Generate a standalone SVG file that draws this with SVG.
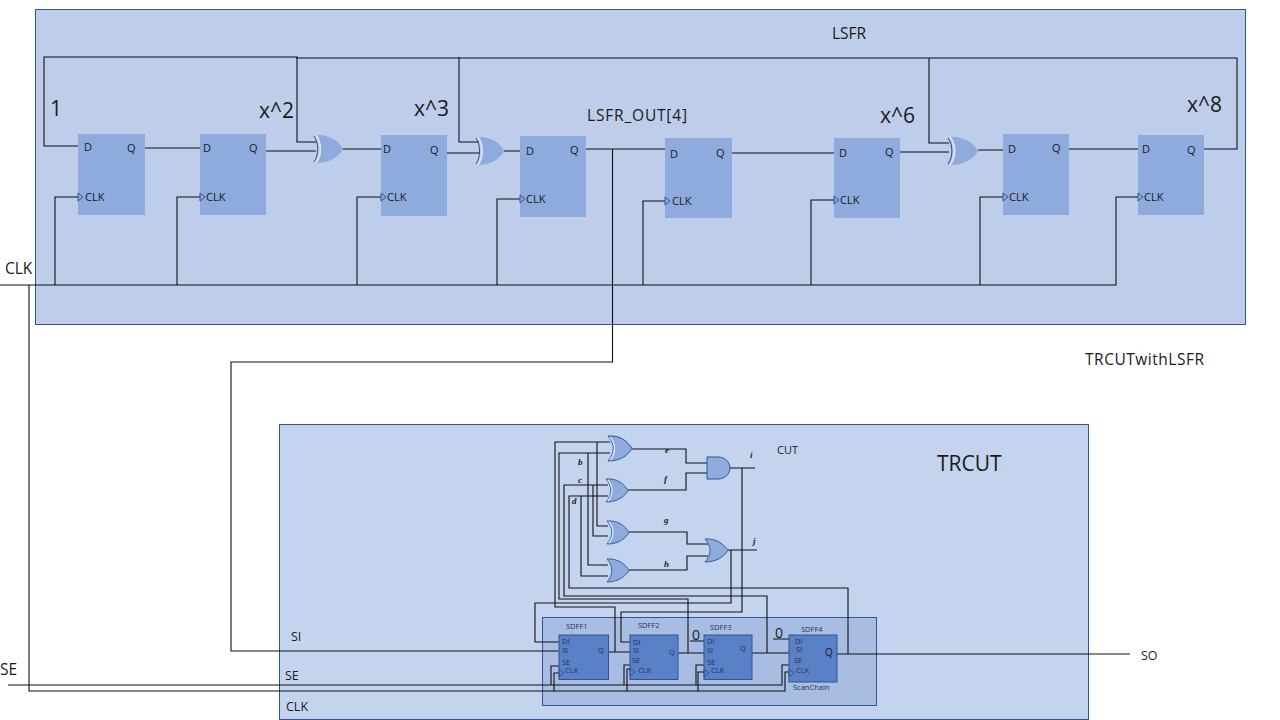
<svg xmlns="http://www.w3.org/2000/svg" width="1280" height="720" viewBox="0 0 1280 720">
<style>
text{font-family:"Open Sans","Noto Sans","Liberation Sans",sans-serif;fill:#1a1a1a}
.panel{stroke:#2f5597;stroke-width:1}
.ff{fill:#8faadc}
.sff{fill:#5a80c8;stroke:#2f5597;stroke-width:1}
.w{fill:none;stroke:#111;stroke-width:1.1}
.clk{fill:none;stroke:#2f5597;stroke-width:1}
.p{font-size:11px}
.s{font-size:7.500px;fill:#26334d}
.g{font-size:21px}
.m{font-size:15.500px}
.n{font-size:12.500px}
.z{font-size:14px}
.l{font-family:"Liberation Serif",serif;font-style:italic;font-size:9px;font-weight:bold}
.body{fill:#8faadc}
.gap{fill:none;stroke:#dbe5f5;stroke-width:1.5}
.back{fill:none;stroke:#2f4a78;stroke-width:1}
.cg{fill:#8faadc;stroke:#2f5597;stroke-width:1}
</style>
<defs>
<g id="xor">
<path class="body" d="M3,0C16,-1 26,6 30,14C26,22 16,28 3,28C9,20 9,8 3,0Z"/>
<path class="gap" d="M3,0C9,8 9,20 3,28"/>
<path class="back" d="M1,1C6,8 6,20 1,27"/>
</g>
<g id="cor">
<path class="cg" d="M0,0C12,-1 20,6 24,12.5C20,19 12,25 0,25C7,17 7,8 0,0Z"/>
</g>
<g id="cxor">
<path class="cg" d="M0,0C13,-1 20,6 24,12.5C20,19 13,25 0,25C7,17 7,8 0,0Z"/>
<path class="gap" d="M2,1C8,8 8,17 2,24"/>
</g>
<path id="ck" class="clk" d="M0,-4L5,0L0,4Z"/>
</defs>

<rect id="lsfr-box" class="panel" x="35.500" y="9.500" width="1210" height="315" fill="#bdcdea"/>
<rect id="trcut-box" class="panel" x="279.500" y="424.500" width="809" height="295" fill="#c4d3ee"/>
<rect id="scan-box" class="panel" x="542.500" y="617.500" width="334" height="88" fill="#a9bde3"/>

<g id="connectors">
<path class="w" d="M1204,149H1237V58H297V57H44V146H78"/>
<path class="w" d="M145,148H200M266,151H316M297,57V142H316M343,149H381"/>
<path class="w" d="M447,153H479M459,57V142H479M504,151H520"/>
<path class="w" d="M586,149H665M612.500,149V362H231V651H559"/>
<path class="w" d="M732,153H834M900,152H949M929,58V143H949M978,150H1003M1069,149H1138"/>
<path class="w" d="M0,285H1116V197H1138M55,285V197H78M177,285V197H200M357,285V197H381M497,285V199H520M643,285V201H665M811,285V200H834M980,285V197H1003"/>
<path class="w" d="M29,285V691H785V672H789M8,685H782V665H789"/>
<path class="w" d="M551,685V666H559M554,691V673H559M624,685V665H630M627,691V669H630M696,685V665H704M698,691V672H704"/>
<path class="w" d="M609,652H630M678,653H704M752,653H789M837,654H1130"/>
<path class="w" d="M615,652V607H555V442H610M597,442V526H608"/>
<path class="w" d="M688,653V599H559V453H610M588,453V565H608"/>
<path class="w" d="M767,653V596H564V485H608M593,485V536H608"/>
<path class="w" d="M848,654V588H569V496H608M581,496V576H608"/>
<path class="w" d="M742,468V612H621V642H630"/>
<path class="w" d="M731,550V603H535V642H559"/>
<path class="w" d="M690,641H704M773,639H789"/>
<path class="w" d="M632,449H686V463H707M628,490H686V473H707M629,532H687V544H708M629,570H687V556H708"/>
<path class="w" d="M730,468H755M728,550H757"/>
</g>

<g id="ff1" transform="translate(78,134)"><rect class="ff" width="67" height="81"/><use href="#ck" y="63"/><text class="p" x="6" y="17">D</text><text class="p" x="49" y="18">Q</text><text class="p" x="7" y="67">CLK</text></g>
<g id="ff2" transform="translate(200,134)"><rect class="ff" width="66" height="81"/><use href="#ck" y="63"/><text class="p" x="3" y="18">D</text><text class="p" x="49" y="18">Q</text><text class="p" x="6" y="67">CLK</text></g>
<g id="ff3" transform="translate(381,135)"><rect class="ff" width="66" height="81"/><use href="#ck" y="62"/><text class="p" x="2" y="18">D</text><text class="p" x="49" y="19">Q</text><text class="p" x="6" y="66">CLK</text></g>
<g id="ff4" transform="translate(520,136)"><rect class="ff" width="66" height="81"/><use href="#ck" y="63"/><text class="p" x="6" y="19">D</text><text class="p" x="50" y="18">Q</text><text class="p" x="6" y="67">CLK</text></g>
<g id="ff5" transform="translate(665,138)"><rect class="ff" width="67" height="80"/><use href="#ck" y="63"/><text class="p" x="5" y="20">D</text><text class="p" x="51" y="19">Q</text><text class="p" x="7" y="67">CLK</text></g>
<g id="ff6" transform="translate(834,138)"><rect class="ff" width="66" height="80"/><use href="#ck" y="62"/><text class="p" x="5" y="19">D</text><text class="p" x="51" y="18">Q</text><text class="p" x="6" y="66">CLK</text></g>
<g id="ff7" transform="translate(1003,134)"><rect class="ff" width="66" height="81"/><use href="#ck" y="63"/><text class="p" x="5" y="19">D</text><text class="p" x="49" y="18">Q</text><text class="p" x="6" y="67">CLK</text></g>
<g id="ff8" transform="translate(1138,135)"><rect class="ff" width="66" height="80"/><use href="#ck" y="62"/><text class="p" x="4" y="18">D</text><text class="p" x="49" y="19">Q</text><text class="p" x="6" y="66">CLK</text></g>

<g id="xor1" transform="translate(313,135)"><use href="#xor"/></g>
<g id="xor2" transform="translate(475,137)"><use href="#xor" transform="scale(.97,1)"/></g>
<g id="xor3" transform="translate(947,137)"><use href="#xor" transform="scale(1.03,1)"/></g>

<g id="g-a" transform="translate(608,436)"><use href="#cxor"/></g>
<g id="g-b" transform="translate(606,479)"><use href="#cxor" transform="scale(.92,.92)"/></g>
<g id="g-c" transform="translate(607,521)"><use href="#cxor" transform="scale(.92,.92)"/></g>
<g id="g-d" transform="translate(607,559)"><use href="#cor" transform="scale(.92,.92)"/></g>
<g id="g-or" transform="translate(705,539)"><use href="#cor" transform="scale(.96,.92)"/></g>
<g id="g-and" transform="translate(707,457)"><path class="cg" d="M0,0H11C18,0 23,5 23,11S18,22 11,22H0Z"/></g>

<g id="sdff1" transform="translate(559,635)"><rect class="sff" width="49.500" height="44.500"/><use href="#ck" y="38"/><text class="s" x="3" y="9">DI</text><text class="s" x="3" y="18">SI</text><text class="s" x="3" y="30">SE</text><text class="s" x="6" y="38">CLK</text><text class="s" x="39" y="18">Q</text></g>
<g id="sdff2" transform="translate(630,635)"><rect class="sff" width="48" height="44.500"/><use href="#ck" y="37"/><text class="s" x="3" y="10">DI</text><text class="s" x="3" y="18">SI</text><text class="s" x="2" y="28">SE</text><text class="s" x="8" y="38">CLK</text><text class="s" x="39" y="20">Q</text></g>
<g id="sdff3" transform="translate(704,635)"><rect class="sff" width="48" height="44.500"/><use href="#ck" y="38"/><text class="s" x="3" y="9">DI</text><text class="s" x="3" y="18">SI</text><text class="s" x="3" y="30">SE</text><text class="s" x="7" y="38">CLK</text><text class="s" x="36" y="16">Q</text></g>
<g id="sdff4" transform="translate(789,635)"><rect class="sff" width="48" height="47"/><use href="#ck" y="38"/><text class="s" x="6" y="9">DI</text><text class="s" x="7" y="17">SI</text><text class="s" x="5" y="28">SE</text><text class="s" x="7" y="38">CLK</text><text x="36" y="21" style="font-size:10px">Q</text></g>

<g id="labels">
<text class="m" x="832" y="39">LSFR</text>
<text class="m" x="1085" y="365" textLength="119">TRCUTwithLSFR</text>
<text class="g" x="937" y="471">TRCUT</text>
<text x="777" y="454" style="font-size:11px">CUT</text>
<text class="g" x="50" y="116">1</text>
<text class="g" x="259" y="118">x^2</text>
<text class="g" x="414" y="116">x^3</text>
<text class="g" x="880" y="123">x^6</text>
<text class="g" x="1187" y="112">x^8</text>
<text class="m" x="587" y="121" textLength="100">LSFR_OUT[4]</text>
<text class="m" x="5" y="274">CLK</text>
<text class="m" x="0" y="675">SE</text>
<text class="n" x="291" y="641">SI</text>
<text class="n" x="285" y="680">SE</text>
<text class="n" x="286" y="711">CLK</text>
<text class="n" x="1141" y="660">SO</text>
<text class="s" x="566" y="629">SDFF1</text>
<text class="s" x="638" y="628">SDFF2</text>
<text class="s" x="710" y="630">SDFF3</text>
<text class="s" x="801" y="632">SDFF4</text>
<text class="s" x="793" y="690">ScanChain</text>
<text class="z" x="692" y="640">0</text>
<text class="z" x="775" y="638">0</text>
<text class="l" x="665" y="453">e</text>
<text class="l" x="664" y="482">f</text>
<text class="l" x="664" y="523">g</text>
<text class="l" x="664" y="567">h</text>
<text class="l" x="750" y="458">i</text>
<text class="l" x="753" y="544">j</text>
<text class="l" x="578" y="465">b</text>
<text class="l" x="578" y="483">c</text>
<text class="l" x="572" y="504">d</text>
</g>
</svg>
